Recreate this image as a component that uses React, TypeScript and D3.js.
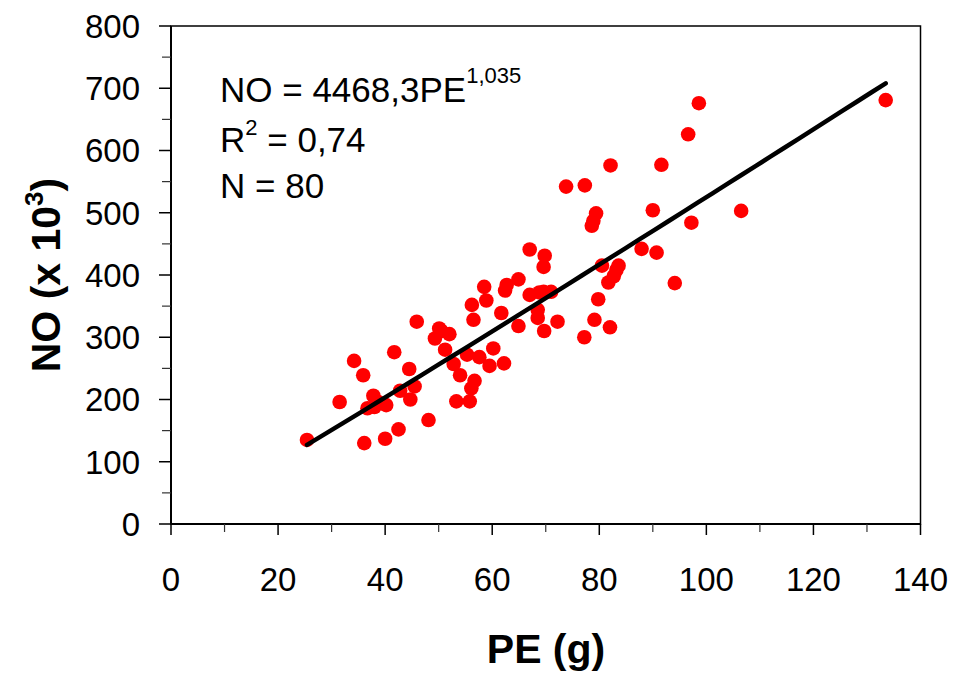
import React from 'react'
import * as d3 from 'd3'

// PE (g)
const peValues = [
  25.4, 31.5, 34.2, 35.9, 36.1, 37.8, 36.7, 38.0, 40.2, 40.0,
  41.7, 42.5, 42.8, 44.5, 44.7, 45.5, 45.9, 48.1, 49.3, 50.1,
  52.0, 51.2, 52.8, 54.0, 53.3, 55.3, 55.8, 56.1, 56.7, 57.6,
  59.5, 60.2, 62.2, 56.2, 56.5, 58.5, 58.9, 61.7, 62.4, 62.7,
  64.9, 64.9, 67.0, 69.8, 69.6, 67.0, 68.8, 71.0, 68.5, 68.5,
  69.7, 72.2, 73.8, 77.3, 77.2, 79.4, 78.6, 79.8, 79.1, 82.0,
  80.5, 83.6, 82.7, 81.7, 82.1, 91.6, 87.9, 90.0, 90.7, 94.1,
  96.6, 97.2, 98.6, 106.5, 133.5, 69.6, 78.9, 38.7, 50.5, 83.2,
]
// NO (x 10^3)
const noValues = [
  135, 196, 262, 239, 130, 206, 186, 188, 191, 137,
  276, 152, 214, 249, 200, 221, 325, 167, 298, 314,
  305, 280, 257, 239, 197, 272, 197, 218, 230, 268,
  254, 282, 258, 352, 328, 381, 359, 339, 375, 384,
  393, 318, 441, 431, 413, 368, 372, 373, 344, 331,
  310, 325, 542, 544, 300, 499, 479, 361, 328, 316,
  415, 415, 398, 388, 576, 577, 442, 504, 436, 387,
  626, 484, 676, 503, 681, 373, 487, 196, 310, 408,
]

const xTicks = [0, 20, 40, 60, 80, 100, 120, 140]
const yTicks = [0, 100, 200, 300, 400, 500, 600, 700, 800]
const xMinor = [10, 30, 50, 70, 90, 110, 130]
const yMinor = [50, 150, 250, 350, 450, 550, 650, 750]

// fitted curve NO = 4468,3 PE^1,035 (NO in units, plotted as x 10^3)
const fitCoef = 4468.3
const fitExp = 1.035

const W = 956
const H = 675
const font = 'Arial, "Liberation Sans", sans-serif'

export default function App() {
  const x = d3.scaleLinear().domain([0, 140]).range([171, 920.5])
  const y = d3.scaleLinear().domain([0, 800]).range([524, 26])

  const data = peValues.map((pe, i) => ({ pe, no: noValues[i] }))

  const xmin = d3.min(peValues) as number
  const xmax = d3.max(peValues) as number
  const fit = d3.range(0, 41).map(i => {
    const pe = xmin + (xmax - xmin) * i / 40
    return [pe, fitCoef * Math.pow(pe, fitExp) / 1000]
  })
  const line = d3.line<number[]>().x(d => x(d[0])).y(d => y(d[1]))

  return (
    <svg width={W} height={H} style={{ position: 'absolute', left: 0, top: 0, background: '#fff' }}
      fontFamily={font}>
      {/* frame */}
      <rect x={x(0)} y={y(800)} width={x(140) - x(0)} height={y(0) - y(800)}
        fill="none" stroke="#000" strokeWidth={1.5} />
      <line x1={x(0)} x2={x(0)} y1={y(0)} y2={y(800)} stroke="#000" strokeWidth={2} />
      <line x1={x(0)} x2={x(140)} y1={y(0)} y2={y(0)} stroke="#000" strokeWidth={2} />

      {/* y ticks */}
      {yTicks.map(t => (
        <g key={'y' + t}>
          <line x1={x(0) - 12} x2={x(0)} y1={y(t)} y2={y(t)} stroke="#000" strokeWidth={1.5} />
          <text x={x(0) - 31} y={y(t)} dy="0.36em" textAnchor="end" fontSize={33}>{t}</text>
        </g>
      ))}
      {yMinor.map(t => (
        <line key={'ym' + t} x1={x(0) - 9} x2={x(0)} y1={y(t)} y2={y(t)} stroke="#333" strokeWidth={1.2} />
      ))}

      {/* x ticks */}
      {xTicks.map(t => (
        <g key={'x' + t}>
          <line x1={x(t)} x2={x(t)} y1={y(0)} y2={y(0) + 11} stroke="#000" strokeWidth={1.5} />
          <text x={x(t)} y={591} textAnchor="middle" fontSize={33}>{t}</text>
        </g>
      ))}
      {xMinor.map(t => (
        <line key={'xm' + t} x1={x(t)} x2={x(t)} y1={y(0)} y2={y(0) + 8} stroke="#333" strokeWidth={1.2} />
      ))}

      {/* points */}
      {data.map((d, i) => (
        <circle key={i} cx={x(d.pe)} cy={y(d.no)} r={7.3} fill="#ff0000" />
      ))}

      {/* fit line */}
      <path d={line(fit) || ''} fill="none" stroke="#000" strokeWidth={4.5} strokeLinecap="round" />

      {/* annotation */}
      <text x={220} y={102} fontSize={35}>
        NO = 4468,3PE<tspan fontSize={22} dy={-19}>1,035</tspan>
      </text>
      <text x={220} y={152} fontSize={35}>
        R<tspan fontSize={22} dy={-17}>2</tspan><tspan dy={17}> = 0,74</tspan>
      </text>
      <text x={220} y={198} fontSize={35}>N = 80</text>

      {/* axis titles */}
      <text x={546} y={663} textAnchor="middle" fontSize={41} fontWeight="bold">PE (g)</text>
      <text transform={`translate(60, ${(y(0) + y(800)) / 2}) rotate(-90)`} textAnchor="middle"
        fontSize={41} fontWeight="bold">
        NO (x 10<tspan fontSize={26} dy={-17}>3</tspan><tspan dy={17}>)</tspan>
      </text>
    </svg>
  )
}
